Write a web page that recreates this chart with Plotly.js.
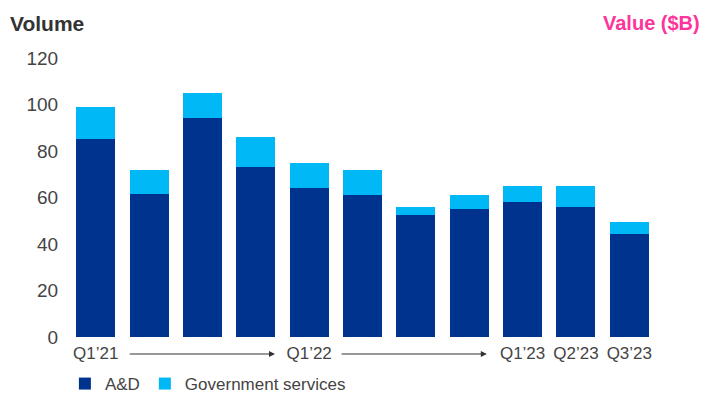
<!DOCTYPE html>
<html>
<head>
<meta charset="utf-8">
<script src="https://cdn.plot.ly/plotly-3.0.1.min.js"></script>
<style>html,body{margin:0;padding:0;background:#fff;}#chart{width:704px;height:395px;}</style>
</head>
<body>
<div id="chart"></div>
<script>
const quarters = ["Q1'21","Q2'21","Q3'21","Q4'21","Q1'22","Q2'22","Q3'22","Q4'22","Q1'23","Q2'23","Q3'23"];
const tickLabels = ["Q1\u201921","","","","Q1\u201922","","","","Q1\u201923","Q2\u201923","Q3\u201923"];
const adValues = [85, 61.5, 94, 73, 64, 61, 52.5, 55, 58, 56, 44.5];
const govValues = [14, 10.5, 11, 13, 11, 11, 3.5, 6, 7, 9, 5];

const fontFam = "'Liberation Sans', Arial, sans-serif";
const traces = [
  {type:'bar', name:'A&D', x:quarters, y:adValues, marker:{color:'#00338D'}, hoverinfo:'y'},
  {type:'bar', name:'Government services', x:quarters, y:govValues, marker:{color:'#00B8F5'}, hoverinfo:'y'}
];
const layout = {
  width:704, height:395,
  margin:{l:69, r:48, t:58, b:58, autoexpand:false},
  barmode:'stack', bargap:0.27,
  paper_bgcolor:'#fff', plot_bgcolor:'#fff',
  font:{family:fontFam, color:'#444', size:17},
  xaxis:{type:'category', tickmode:'array', tickvals:quarters, ticktext:tickLabels, automargin:false,
         showgrid:false, zeroline:false, showline:false, ticks:'', ticklabelstandoff:4,
         tickfont:{size:17, color:'#444'}},
  yaxis:{range:[0,120], dtick:20, showgrid:false, zeroline:false, showline:false, automargin:false,
         ticks:'outside', ticklen:6, tickcolor:'rgba(0,0,0,0)', tickfont:{size:19, color:'#444'}},
  showlegend:true,
  legend:{orientation:'h', x:-0.007, xanchor:'left', y:-0.104, yanchor:'top', traceorder:'normal',
          font:{size:17, color:'#444'}, itemwidth:30},
  annotations:[
    {xref:'paper', yref:'paper', x:-0.104, y:1.125, xanchor:'left', yanchor:'middle', showarrow:false,
     text:'<b>Volume</b>', font:{size:21, color:'#333'}},
    {xref:'paper', yref:'paper', x:1.079, y:1.125, xanchor:'right', yanchor:'middle', showarrow:false,
     text:'<b>Value ($B)</b>', font:{size:20, color:'#FD349C'}},
    {xref:'x', yref:'paper', axref:'x', ayref:'paper', x:3.36, y:-0.061, ax:0.61, ay:-0.061,
     showarrow:true, arrowhead:2, arrowsize:1, arrowwidth:1.2, arrowcolor:'#333', text:''},
    {xref:'x', yref:'paper', axref:'x', ayref:'paper', x:7.33, y:-0.061, ax:4.58, ay:-0.061,
     showarrow:true, arrowhead:2, arrowsize:1, arrowwidth:1.2, arrowcolor:'#333', text:''}
  ]
};
Plotly.newPlot('chart', traces, layout, {displayModeBar:false, staticPlot:true});
</script>
</body>
</html>
